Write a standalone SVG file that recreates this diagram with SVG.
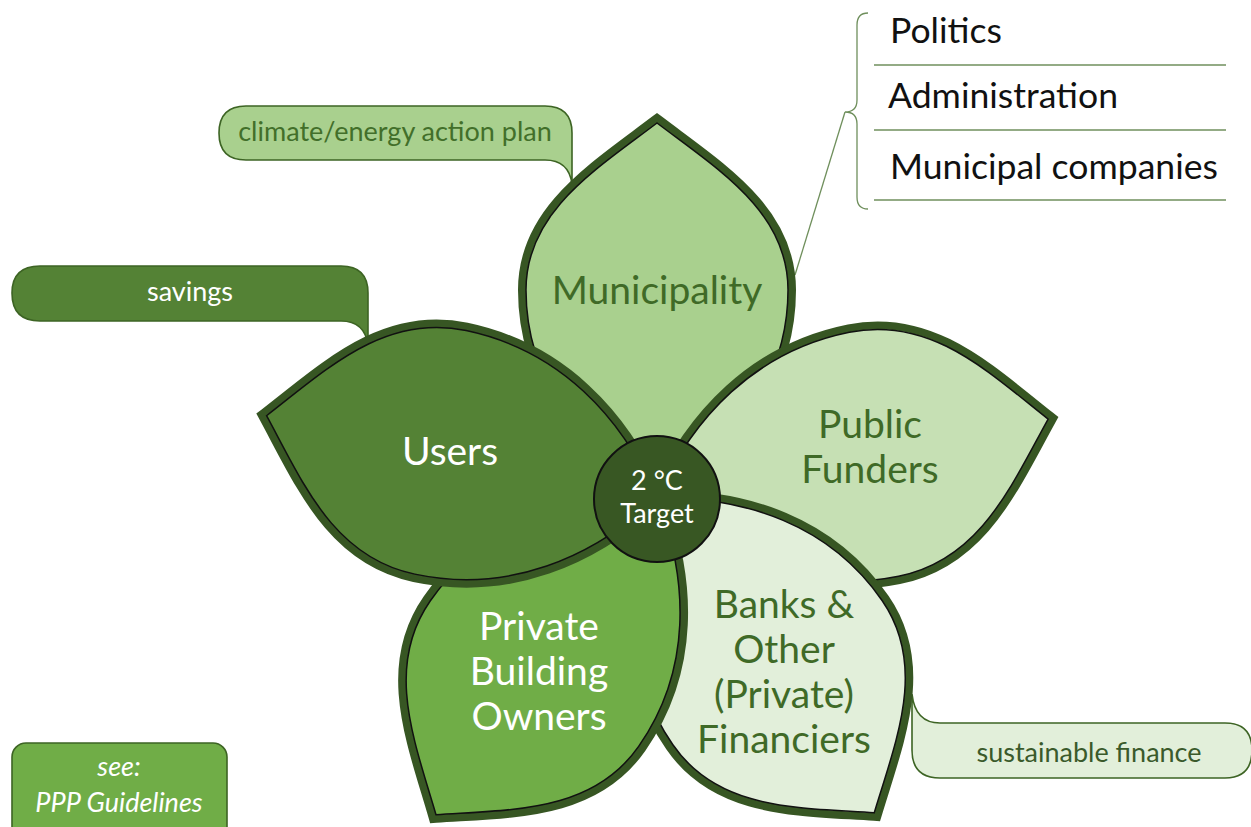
<svg xmlns="http://www.w3.org/2000/svg" xmlns:xlink="http://www.w3.org/1999/xlink" width="1251" height="827" viewBox="0 0 1251 827">
<style>
text{font-family:Lato,"Open Sans","Liberation Sans",sans-serif;text-anchor:middle}
.band{stroke:#375623;stroke-width:16;paint-order:stroke;stroke-linejoin:miter;stroke-miterlimit:10}
.edge{fill:none;stroke:#111;stroke-width:1.5}
.lbl{font-size:39px}
.dk{fill:#3f6a27}
.wt{fill:#ffffff}
.co{stroke:#3d6424;stroke-width:1.6}
.cot{font-size:27px}
.list{font-size:35.6px;fill:#111;text-anchor:start}
.rule{stroke:#6f8f5c;stroke-width:1.3;fill:none}
</style>
<defs>
<path id="petal" vector-effect="non-scaling-stroke" d="M0,0 C48,-76 118,-131 208,-131 C286,-131 328,-62 375,0 C328,62 286,131 208,131 C118,131 48,76 0,0 Z"/>
</defs>
<rect width="1251" height="827" fill="#ffffff"/>

<g id="callouts">
<g id="callout-climate">
<path class="co" fill="#a9d08e" d="M246,106 H545 Q572,106 572,133 V184 C570,169 562,160 545,160 H246 Q219,160 219,133 Q219,106 246,106 Z"/>
<text class="cot" x="395" y="141" fill="#426f2a">climate/energy action plan</text>
</g>
<g id="callout-savings">
<path class="co" fill="#548235" d="M40,266 H341 Q368,266 368,293 V345 C366,331 358,321 341,321 H40 Q12,321 12,293 Q12,266 40,266 Z"/>
<text class="cot wt" x="190" y="301">savings</text>
</g>
<g id="callout-finance">
<path class="co" fill="#e2efda" d="M912,694 C914,712 922,723 940,723 H1225 Q1252,723 1252,750 Q1252,778 1225,778 H940 Q912,778 912,750 Z"/>
<text class="cot" x="1089" y="762" fill="#3a5a2b">sustainable finance</text>
</g>
<g id="callout-ppp">
<rect class="co" fill="#70ad47" x="12" y="743" width="215" height="100" rx="14"/>
<text class="cot wt" x="119" y="776" font-style="italic">see:</text>
<text class="cot wt" x="119" y="812" font-style="italic">PPP Guidelines</text>
</g>
</g>

<g id="connectors">
<path class="rule" stroke="#8a9a7a" d="M868,13 Q857,13 857,25 V100 Q857,112 845,112 Q857,112 857,124 V197 Q857,209 868,209"/>
<line class="rule" stroke="#8a9a7a" x1="845" y1="112" x2="795" y2="275"/>
</g>

<g id="municipality-list">
<line class="rule" x1="874" y1="65" x2="1226" y2="65"/>
<line class="rule" x1="874" y1="130" x2="1226" y2="130"/>
<line class="rule" x1="874" y1="200" x2="1226" y2="200"/>
<text class="list" x="890" y="43">Politics</text>
<text class="list" x="888" y="108">Administration</text>
<text class="list" x="890" y="179">Municipal companies</text>
</g>

<g id="municipality">
<g transform="translate(657,498) rotate(-90)"><use xlink:href="#petal" class="band" fill="#a9d08e"/><use xlink:href="#petal" class="edge"/></g>
<text class="lbl dk" x="657" y="304">Municipality</text>
</g>
<g id="public-funders">
<g transform="translate(657,498) rotate(-11.4) scale(1.064,0.95)"><use xlink:href="#petal" class="band" fill="#c6e0b4"/><use xlink:href="#petal" class="edge"/></g>
<text class="lbl dk" x="870" y="438">Public</text>
<text class="lbl dk" x="870" y="483">Funders</text>
</g>
<g id="banks">
<g transform="translate(657,498) rotate(55.4) scale(1.02,0.97)"><use xlink:href="#petal" class="band" fill="#e2efda"/><use xlink:href="#petal" class="edge"/></g>
<text class="lbl dk" x="784" y="618">Banks &amp;</text>
<text class="lbl dk" x="784" y="663">Other</text>
<text class="lbl dk" x="784" y="708">(Private)</text>
<text class="lbl dk" x="784" y="753">Financiers</text>
</g>
<g id="private-building-owners">
<g transform="translate(657,498) rotate(124.9) scale(1.03,0.97)"><use xlink:href="#petal" class="band" fill="#70ad47"/><use xlink:href="#petal" class="edge"/></g>
<text class="lbl wt" x="539" y="640">Private</text>
<text class="lbl wt" x="539" y="685">Building</text>
<text class="lbl wt" x="539" y="730">Owners</text>
</g>
<g id="users">
<g transform="translate(657,498) rotate(-168.1) scale(1.064,0.95)"><use xlink:href="#petal" class="band" fill="#548235"/><use xlink:href="#petal" class="edge"/></g>
<text class="lbl wt" x="450" y="465">Users</text>
</g>
<g id="target">
<circle cx="657" cy="499" r="63" fill="#385723" stroke="#111" stroke-width="2"/>
<text x="657" y="490" font-size="27" fill="#fff">2 °C</text>
<text x="657" y="523" font-size="27" fill="#fff">Target</text>
</g>
</svg>
